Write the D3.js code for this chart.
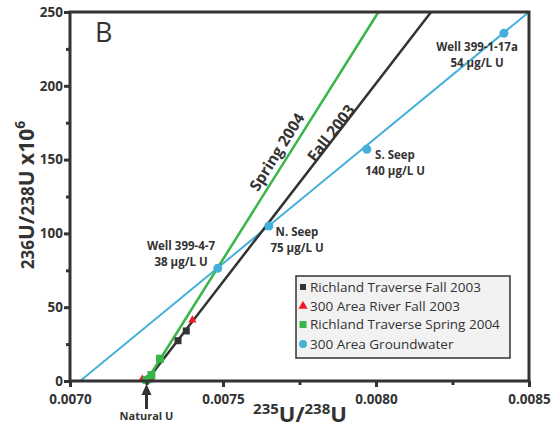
<!DOCTYPE html>
<html>
<head>
<meta charset="utf-8">
<script src="https://cdn.jsdelivr.net/npm/d3@7"></script>
<style>
  body { margin: 0; background: #fff; }
  svg text { font-family: "Open Sans", "Noto Sans", sans-serif; fill: #333; }
</style>
</head>
<body>
<svg id="chart"></svg>
<script>
const WIDTH = 560;
const HEIGHT = 434;

// Data
const xTicks = [0.0070, 0.0075, 0.0080, 0.0085];
const xMinorTicks = [0.00725, 0.00775, 0.00825];
const yTicks = [0, 50, 100, 150, 200, 250];
const yMinorTicks = [25, 75, 125, 175, 225];

const fallTraverse = [[0.00726, 1.5], [0.007353, 27.3], [0.00738, 33.9]];
const riverFall = [[0.007236, 0.4], [0.007266, 0.5], [0.0074, 40.6]];
const springTraverse = [[0.00725, 0.8], [0.007266, 4], [0.007294, 15.1]];
const groundwater = [[0.007483, 76.4], [0.00765, 105], [0.00797, 157], [0.008418, 235.6]];
const groundwaterNames = ["Well 399-4-7", "N. Seep", "S. Seep", "Well 399-1-17a"];
const groundwaterConc = ["38 \u03bcg/L U", "75 \u03bcg/L U", "140 \u03bcg/L U", "54 \u03bcg/L U"];

const fallLine = [[0.00725, 0], [0.00818, 250]];
const springLine = [[0.00725, 0], [0.008008, 250]];
const groundwaterLine = [[0.007033, 0], [0.0085, 250]];
const naturalU = 0.00725;

const legendLabels = ["Richland Traverse Fall 2003", "300 Area River Fall 2003", "Richland Traverse Spring 2004", "300 Area Groundwater"];

const BLACK = "#333333";
const GREEN = "#3ab54a";
const RED = "#ed1c24";
const BLUE = "#45b0d9";

const svg = d3.select("#chart").attr("width", WIDTH).attr("height", HEIGHT);

const x = d3.scaleLinear().domain([0.0070, 0.0085]).range([70, 529]);
const y = d3.scaleLinear().domain([0, 250]).range([381, 12]);

const line = d3.line().x(d => x(d[0])).y(d => y(d[1]));

// Lines
const linesGroup = svg.append("g");
linesGroup.append("path").datum(groundwaterLine).attr("d", line)
    .attr("stroke", BLUE).attr("stroke-width", 2).attr("fill", "none");
linesGroup.append("path").datum(fallLine).attr("d", line)
    .attr("stroke", BLACK).attr("stroke-width", 2.5).attr("fill", "none");
linesGroup.append("path").datum(springLine).attr("d", line)
    .attr("stroke", GREEN).attr("stroke-width", 2.5).attr("fill", "none");

// Points
const pointsGroup = svg.append("g");
pointsGroup.selectAll("rect.fall").data(fallTraverse).enter().append("rect")
    .attr("x", d => x(d[0]) - 3.5).attr("y", d => y(d[1]) - 3.5)
    .attr("width", 7).attr("height", 7).attr("fill", BLACK);
pointsGroup.selectAll("path.river").data(riverFall).enter().append("path")
    .attr("d", d3.symbol(d3.symbolTriangle, 30))
    .attr("transform", d => "translate(" + x(d[0]) + "," + (y(d[1]) - 1) + ")")
    .attr("fill", RED);
pointsGroup.selectAll("rect.spring").data(springTraverse).enter().append("rect")
    .attr("x", d => x(d[0]) - 4).attr("y", d => y(d[1]) - 4)
    .attr("width", 8).attr("height", 8).attr("fill", GREEN);
pointsGroup.selectAll("circle").data(groundwater).enter().append("circle")
    .attr("cx", d => x(d[0])).attr("cy", d => y(d[1]))
    .attr("r", 4.5).attr("fill", BLUE);

// Frame
const frame = svg.append("g").attr("stroke", BLACK).attr("stroke-width", 3).attr("fill", "none");
frame.append("rect").attr("x", x(0.0070)).attr("y", y(250))
    .attr("width", x(0.0085) - x(0.0070)).attr("height", y(0) - y(250));

// Axes
const xAxis = svg.append("g").attr("transform", "translate(0," + y(0) + ")")
    .call(d3.axisBottom(x).tickValues(xTicks).tickSize(6).tickFormat(d3.format(".4f")));
const xMinor = svg.append("g").attr("transform", "translate(0," + y(0) + ")")
    .call(d3.axisBottom(x).tickValues(xMinorTicks).tickSize(4).tickFormat(""));
const yAxis = svg.append("g").attr("transform", "translate(" + x(0.0070) + ",0)")
    .call(d3.axisLeft(y).tickValues(yTicks).tickSize(6));
const yMinor = svg.append("g").attr("transform", "translate(" + x(0.0070) + ",0)")
    .call(d3.axisLeft(y).tickValues(yMinorTicks).tickSize(4).tickFormat(""));
[xAxis, xMinor, yAxis, yMinor].forEach(a => {
    a.select(".domain").remove();
    a.selectAll(".tick line").attr("stroke", BLACK).attr("stroke-width", 3);
});
xAxis.selectAll(".tick text").attr("font-size", 13.5).attr("font-weight", "bold")
    .attr("dy", "1.05em").style("font-family", "'Open Sans', sans-serif").attr("fill", BLACK);
yAxis.selectAll(".tick text").attr("font-size", 13.5).attr("font-weight", "bold")
    .attr("x", -7).style("font-family", "'Open Sans', sans-serif").attr("fill", BLACK);

// Axis titles
const xTitle = svg.append("text").attr("x", 300).attr("y", 422)
    .attr("text-anchor", "middle").attr("font-weight", "bold");
xTitle.append("tspan").attr("font-size", 15).attr("dy", -8).text("235");
xTitle.append("tspan").attr("font-size", 22).attr("dy", 8).text("U/");
xTitle.append("tspan").attr("font-size", 15).attr("dy", -8).text("238");
xTitle.append("tspan").attr("font-size", 22).attr("dy", 8).text("U");

const yTitle = svg.append("text").attr("transform", "translate(34,195) rotate(-90)")
    .attr("text-anchor", "middle").attr("font-weight", "bold");
yTitle.append("tspan").attr("font-size", 17).text("236");
yTitle.append("tspan").attr("font-size", 21).text("U/");
yTitle.append("tspan").attr("font-size", 17).text("238");
yTitle.append("tspan").attr("font-size", 21).text("U x10");
yTitle.append("tspan").attr("font-size", 14).attr("dy", -9).text("6");

// Panel letter
svg.append("text").attr("x", 95).attr("y", 42).attr("font-size", 27).text("B");

// Line labels
svg.append("text").attr("transform", "translate(277,152) rotate(-57.8)")
    .attr("text-anchor", "middle").attr("dy", "0.35em")
    .attr("font-size", 15.5).attr("font-weight", "bold").text("Spring 2004");
svg.append("text").attr("transform", "translate(331,133) rotate(-52.4)")
    .attr("text-anchor", "middle").attr("dy", "0.35em")
    .attr("font-size", 15.5).attr("font-weight", "bold").text("Fall 2003");

// Groundwater labels
const labelPos = [[181, 250], [297, 236], [395, 159], [477, 51]];
const gwLabels = svg.append("g").attr("font-size", 11.5).attr("font-weight", "bold").attr("text-anchor", "middle");
gwLabels.selectAll("text.name").data(labelPos).enter().append("text")
    .attr("x", d => d[0]).attr("y", d => d[1]).text((d, i) => groundwaterNames[i]);
gwLabels.selectAll("text.conc").data(labelPos).enter().append("text")
    .attr("x", d => d[0]).attr("y", d => d[1] + 16).text((d, i) => groundwaterConc[i]);

// Natural U arrow
svg.append("line").attr("x1", x(naturalU)).attr("y1", 409).attr("x2", x(naturalU)).attr("y2", 393)
    .attr("stroke", BLACK).attr("stroke-width", 3);
svg.append("path")
    .attr("d", "M" + (x(naturalU) - 5) + ",395L" + x(naturalU) + ",384L" + (x(naturalU) + 5) + ",395Z")
    .attr("fill", BLACK);
svg.append("text").attr("x", x(naturalU)).attr("y", 420).attr("text-anchor", "middle")
    .attr("font-size", 11).attr("font-weight", "bold").text("Natural U");

// Legend
const legend = svg.append("g").attr("transform", "translate(296,276)");
legend.append("rect").attr("width", 214).attr("height", 82)
    .attr("fill", "#f2f2f2").attr("stroke", BLACK).attr("stroke-width", 1.5);
const rows = legend.selectAll("g.row").data(legendLabels).enter().append("g")
    .attr("transform", (d, i) => "translate(0," + [11, 30, 48.5, 68][i] + ")");
rows.append("text").attr("x", 14).attr("dy", "0.35em").attr("font-size", 13.5).text(d => d);
rows.filter((d, i) => i == 0).append("rect").attr("x", 4).attr("y", -3).attr("width", 6).attr("height", 6).attr("fill", BLACK);
rows.filter((d, i) => i == 1).append("path").attr("d", d3.symbol(d3.symbolTriangle, 36))
    .attr("transform", "translate(7,0)").attr("fill", RED);
rows.filter((d, i) => i == 2).append("rect").attr("x", 3.5).attr("y", -3.5).attr("width", 7).attr("height", 7).attr("fill", GREEN);
rows.filter((d, i) => i == 3).append("circle").attr("cx", 7).attr("r", 4).attr("fill", BLUE);
</script>
</body>
</html>
